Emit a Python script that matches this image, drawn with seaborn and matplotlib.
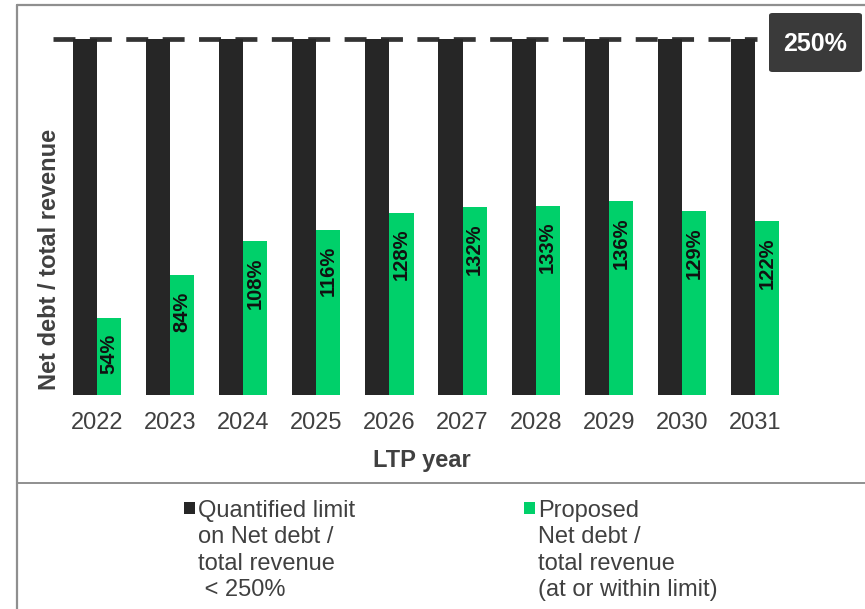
import matplotlib
matplotlib.use("Agg")
import matplotlib.pyplot as plt
from matplotlib.patches import Rectangle, FancyBboxPatch
from matplotlib.lines import Line2D
import pandas as pd
import seaborn as sns

# ---- data ----
years = ["2022", "2023", "2024", "2025", "2026", "2027", "2028", "2029", "2030", "2031"]
limit_values = [250, 250, 250, 250, 250, 250, 250, 250, 250, 250]
proposed_values = [54, 84, 108, 116, 128, 132, 133, 136, 129, 122]
series_names = ["Quantified limit", "Proposed"]
limit_level = 250

limit_legend_lines = ["Quantified limit", "on Net debt /", "total revenue", " < 250%"]
proposed_legend_lines = ["Proposed", "Net debt /", "total revenue", "(at or within limit)"]

df = pd.DataFrame({
    "year": years * 2,
    "series": [series_names[0]] * len(years) + [series_names[1]] * len(years),
    "value": limit_values + proposed_values,
})

DARK = "#262626"
GREEN = "#00D06A"
TEXT = "#404040"
BORDER = "#8f8f8f"

sns.set_theme(style="white")
plt.rcParams["font.family"] = ["Liberation Sans", "DejaVu Sans"]

W, H = 865, 609
fig = plt.figure(figsize=(W / 100, H / 100), dpi=100)
fig.patch.set_facecolor("white")

# axes placed in pixel terms: baseline at y=395, 250% at y=39
px_left, px_right, px_top, px_bottom = 40, 800, 30, 395
ax = fig.add_axes([px_left / W, 1 - px_bottom / H,
                   (px_right - px_left) / W, (px_bottom - px_top) / H])

sns.barplot(data=df, x="year", y="value", hue="series", hue_order=series_names,
            palette=[DARK, GREEN], saturation=1, width=0.66, legend=False,
            linewidth=0, edgecolor="none", ax=ax, zorder=3)

unit = 73.1  # pixels per category
ax.set_xlim(-(97 - px_left) / unit, 9 + (px_right - 755) / unit)
px_per_pct = (395 - 39) / limit_level
ax.set_ylim(0, (px_bottom - px_top) / px_per_pct)

# dashed limit line
lw = 3.4
ax.plot([-(97 - 53) / unit, 9 + (757 - 755) / unit], [limit_level, limit_level],
        color="#333333", lw=lw, linestyle=(0, (15.8 / lw, 10.4 / lw)),
        solid_capstyle="butt", dash_capstyle="butt", zorder=2)

# value labels inside the proposed bars
offset = 16 / px_per_pct
for i, v in enumerate(proposed_values):
    ax.text(i + 0.165, v - offset, f"{v}%", rotation=90, ha="center", va="top",
            fontsize=14.5, fontweight="bold", color="#111111", zorder=4)

for s in ax.spines.values():
    s.set_visible(False)
ax.set_yticks([])
ax.set_xlabel("")
ax.set_ylabel("")
ax.tick_params(axis="x", length=0, pad=12, labelsize=17, labelcolor=TEXT)
ax.grid(False)

# axis titles
fig.text(50 / W, 1 - 259 / H, "Net debt / total revenue", rotation=90,
         ha="center", va="center", fontsize=17, fontweight="bold", color=TEXT)
fig.text(422 / W, 1 - 460 / H, "LTP year", ha="center", va="center",
         fontsize=17, fontweight="bold", color=TEXT)

# limit badge
badge = FancyBboxPatch((769 / W, 1 - 72 / H), (862 - 769) / W, (72 - 13) / H,
                       boxstyle="round,pad=0,rounding_size=0.004",
                       transform=fig.transFigure, facecolor="#3a3a3a",
                       edgecolor="none")
fig.patches.append(badge)
fig.text(815 / W, 1 - 44 / H, f"{limit_level}%", ha="center", va="center",
         fontsize=18, fontweight="bold", color="white")

# frame lines
fig.add_artist(Line2D([17 / W, 1], [1 - 5 / H, 1 - 5 / H], color=BORDER, lw=1.6))
fig.add_artist(Line2D([17 / W, 17 / W], [0, 1 - 5 / H], color=BORDER, lw=1.6))
fig.add_artist(Line2D([17 / W, 1], [1 - 483 / H, 1 - 483 / H], color=BORDER, lw=1.4))

# legend
baselines = [516.5, 543, 569.5, 596]
for sq_x, txt_x, color, lines in [(184, 198, DARK, limit_legend_lines),
                                  (524, 538, GREEN, proposed_legend_lines)]:
    fig.patches.append(Rectangle((sq_x / W, 1 - 514 / H), 11 / W, 12 / H,
                                 transform=fig.transFigure, facecolor=color,
                                 edgecolor="none"))
    for line, b in zip(lines, baselines):
        fig.text(txt_x / W, 1 - b / H, line, ha="left", va="baseline",
                 fontsize=17, color=TEXT)

fig.savefig("out.png", dpi=100, facecolor="white")
